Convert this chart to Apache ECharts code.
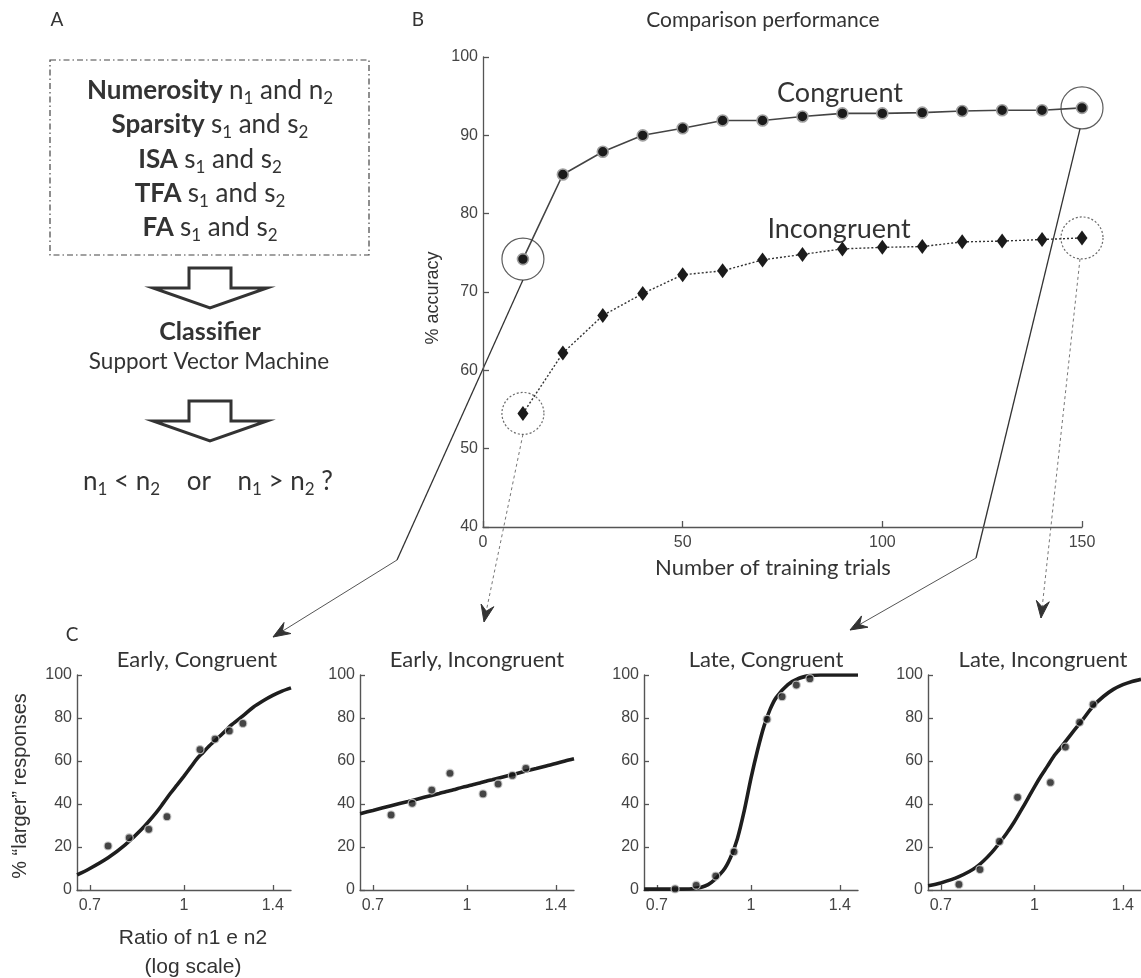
<!DOCTYPE html>
<html>
<head>
<meta charset="utf-8">
<title>Comparison performance</title>
<script src="https://cdn.jsdelivr.net/npm/echarts@6/dist/echarts.min.js"></script>
<style>
    html, body { margin: 0; padding: 0; background: #fff; }
    #main { width: 1141px; height: 978px; }
</style>
</head>
<body>
<div id="main"></div>
<script>
// ---- panel B : accuracy vs number of training trials
var trials = [10, 20, 30, 40, 50, 60, 70, 80, 90, 100, 110, 120, 130, 140, 150];
var congruentAcc = [74.2, 85.0, 87.9, 90.0, 90.9, 91.9, 91.9, 92.4, 92.8, 92.8, 92.9, 93.1, 93.2, 93.2, 93.5];
var incongruentAcc = [54.5, 62.2, 67.0, 69.8, 72.2, 72.7, 74.1, 74.8, 75.5, 75.7, 75.8, 76.4, 76.5, 76.7, 76.9];

// ---- panel C : % "larger" responses vs ratio n1/n2 (log scale)
var ratios = [0.75, 0.8125, 0.875, 0.9375, 1.0625, 1.125, 1.1875, 1.25];
var earlyCongPts = [20.5, 24.3, 28.2, 34.1, 65.3, 70.2, 74.0, 77.5];
var earlyIncPts  = [34.9, 40.3, 46.5, 54.3, 44.7, 49.3, 53.3, 56.6];
var lateCongPts  = [0.5, 2.2, 6.5, 17.8, 79.4, 89.9, 95.3, 98.3];
var lateIncPts   = [2.6, 9.5, 22.6, 43.1, 50.0, 66.5, 78.0, 86.3];

// fitted curves
var fitRatios    = [0.667, 0.7, 0.75, 0.8, 0.85, 0.9, 0.925, 0.95, 0.975, 1.0, 1.025, 1.05, 1.075, 1.1, 1.15, 1.2, 1.25, 1.3, 1.35, 1.4, 1.45, 1.5];
var earlyCongFit = [7, 10, 15, 21, 28, 36, 40.5, 45, 49, 53, 57, 61, 64, 67, 72, 77, 81, 85, 88, 90.5, 92.5, 94];
var earlyIncFit  = [35.5, 37, 39.2, 41.2, 43.1, 44.9, 45.8, 46.6, 47.5, 48.3, 49.1, 49.8, 50.6, 51.3, 52.7, 54, 55.3, 56.5, 57.7, 58.8, 60, 61];
var lateCongFit  = [0.4, 0.4, 0.4, 0.6, 2.5, 9, 15, 24, 37, 52, 65, 76, 84, 89.5, 95.5, 98.5, 99.7, 100, 100, 100, 100, 100];
var lateIncFit   = [2, 3.3, 6.2, 10.5, 17.5, 26.5, 31.5, 37, 42.5, 48, 53, 57.5, 62, 65.5, 72.5, 79, 85.5, 90, 93.3, 95.5, 97, 98];
var ratioTicks = [0.7, 1, 1.4];
var subTitles = ['Early, Congruent', 'Early, Incongruent', 'Late, Congruent', 'Late, Incongruent'];

var ptsC = [earlyCongPts, earlyIncPts, lateCongPts, lateIncPts];
var fitC = [earlyCongFit, earlyIncFit, lateCongFit, lateIncFit];

var chart = echarts.init(document.getElementById('main'));

var axisCol = '#555';
var labCol = '#444';
var txtCol = '#333';
var tickFont = 'Liberation Sans';
var titleFont = 'Lato';

function pair(xs, ys, fx) {
    var out = [];
    for (var i = 0; i < xs.length; i++) out.push([fx ? fx(xs[i]) : xs[i], ys[i]]);
    return out;
}

var grids = [{ left: 483, top: 57, width: 599, height: 470 }];
var xAxes = [{
    gridIndex: 0, type: 'value', min: 0, max: 150, interval: 50,
    axisLine: { onZero: false, lineStyle: { color: axisCol, width: 1.3 } },
    axisTick: { inside: true, length: 6, lineStyle: { color: axisCol, width: 1.3 } },
    axisLabel: { color: labCol, fontSize: 16, fontFamily: tickFont, margin: 8 },
    splitLine: { show: false }
}];
var yAxes = [{
    gridIndex: 0, type: 'value', min: 40, max: 100, interval: 10,
    axisLine: { show: true, onZero: false, lineStyle: { color: axisCol, width: 1.3 } },
    axisTick: { show: true, inside: true, length: 6, lineStyle: { color: axisCol, width: 1.3 } },
    axisLabel: { color: labCol, fontSize: 16, fontFamily: tickFont, margin: 5 },
    splitLine: { show: false }
}];

var series = [
    {
        type: 'line', xAxisIndex: 0, yAxisIndex: 0,
        data: pair(trials, congruentAcc),
        symbol: 'circle', symbolSize: 11,
        itemStyle: { color: '#1b1b1b', borderColor: '#a0a0a0', borderWidth: 1.6 },
        lineStyle: { color: '#444', width: 1.6 },
        z: 3
    },
    {
        type: 'line', xAxisIndex: 0, yAxisIndex: 0,
        data: pair(trials, incongruentAcc),
        symbol: 'diamond', symbolSize: [11, 15],
        itemStyle: { color: '#1b1b1b' },
        lineStyle: { color: '#333', width: 1.4, type: [2, 2] },
        z: 3
    },
    // circles around the early / late points
    {
        type: 'scatter', xAxisIndex: 0, yAxisIndex: 0, silent: true, clip: false,
        data: [[trials[0], congruentAcc[0]], [trials[trials.length - 1], congruentAcc[congruentAcc.length - 1]]],
        symbol: 'circle', symbolSize: 42,
        itemStyle: { color: 'rgba(0,0,0,0)', borderColor: '#333', borderWidth: 1.2 },
        z: 2
    },
    {
        type: 'scatter', xAxisIndex: 0, yAxisIndex: 0, silent: true, clip: false,
        data: [[trials[0], incongruentAcc[0]], [trials[trials.length - 1], incongruentAcc[incongruentAcc.length - 1]]],
        symbol: 'circle', symbolSize: 42,
        itemStyle: { color: 'rgba(0,0,0,0)', borderColor: '#444', borderWidth: 1.2, borderType: [2, 2] },
        z: 2
    }
];

var cLefts = [77, 360, 644, 928];
var logTicks = ratioTicks.map(function (r) { return Math.log(r); });
for (var k = 0; k < 4; k++) {
    var gi = k + 1;
    grids.push({ left: cLefts[k], top: 675, width: 214, height: 215 });
    xAxes.push({
        gridIndex: gi, type: 'value', min: Math.log(2 / 3), max: Math.log(1.5),
        axisLine: { onZero: false, lineStyle: { color: axisCol, width: 1.4 } },
        axisTick: { inside: true, length: 5, customValues: logTicks, lineStyle: { color: axisCol, width: 1.3 } },
        axisLabel: {
            color: labCol, fontSize: 16, fontFamily: tickFont, margin: 8,
            customValues: logTicks,
            formatter: function (v) { return String(parseFloat(Math.exp(v).toFixed(2))); }
        },
        splitLine: { show: false }
    });
    yAxes.push({
        gridIndex: gi, type: 'value', min: 0, max: 100, interval: 20,
        axisLine: { show: true, onZero: false, lineStyle: { color: axisCol, width: 1.4 } },
        axisTick: { show: true, inside: true, length: 5, lineStyle: { color: axisCol, width: 1.3 } },
        axisLabel: { color: labCol, fontSize: 16, fontFamily: tickFont, margin: 5 },
        splitLine: { show: false }
    });
    series.push({
        type: 'line', xAxisIndex: gi, yAxisIndex: gi,
        data: pair(fitRatios, fitC[k], Math.log),
        smooth: 0.3, showSymbol: false, silent: true,
        lineStyle: { color: '#1e1e1e', width: 3.6 },
        z: 2
    });
    series.push({
        type: 'scatter', xAxisIndex: gi, yAxisIndex: gi,
        data: pair(ratios, ptsC[k], Math.log),
        symbol: 'circle', symbolSize: 8,
        itemStyle: { color: '#161616', borderColor: '#cfcfcf', borderWidth: 1.3 },
        z: 3
    });
}

function label(text, x, y, size, family, extra) {
    var st = { text: text, x: 0, y: 0, fill: txtCol, fontSize: size, fontFamily: family, align: 'center', verticalAlign: 'middle' };
    var el = { type: 'text', x: x, y: y, silent: true, style: st };
    if (extra) {
        for (var key in extra) {
            if (key === 'fontWeight') st.fontWeight = extra[key]; else el[key] = extra[key];
        }
    }
    return el;
}

// rich text with subscripts for panel A
var richA = {
    b: { fontFamily: titleFont, fontSize: 26, fontWeight: 'bold', lineHeight: 32, fill: txtCol, color: txtCol },
    t: { fontFamily: titleFont, fontSize: 26, lineHeight: 32, fill: txtCol, color: txtCol },
    s: { fontFamily: titleFont, fontSize: 17, lineHeight: 16, verticalAlign: 'bottom', fill: txtCol, color: txtCol }
};
function richLine(str, x, y) {
    return {
        type: 'text', x: x, y: y, silent: true,
        style: { text: str, rich: richA, align: 'center', verticalAlign: 'middle', fill: txtCol, fontFamily: titleFont, fontSize: 26 }
    };
}

function blockArrow(cx, top) {
    return {
        type: 'polygon', silent: true,
        shape: { points: [[cx - 21, top], [cx + 21, top], [cx + 21, top + 20], [cx + 57, top + 20], [cx, top + 40], [cx - 57, top + 20], [cx - 21, top + 20]] },
        style: { fill: '#fff', stroke: '#333', lineWidth: 3, lineJoin: 'miter' }
    };
}

var graphics = [
    label('A', 57, 20, 19, titleFont),
    label('B', 418, 20, 19, titleFont),
    label('C', 72, 635, 19, titleFont),
    label('Comparison performance', 763, 20, 21, titleFont),
    label('Congruent', 840, 93, 27, titleFont),
    label('Incongruent', 839, 229, 27, titleFont),
    label('Number of training trials', 773, 568, 22, titleFont),
    label('% accuracy', 433, 298, 18, tickFont, { rotation: Math.PI / 2 }),
    label('% \u201clarger\u201d responses', 20, 786, 20, tickFont, { rotation: Math.PI / 2 }),
    label('Ratio of n1 e n2', 193, 938, 21, tickFont),
    label('(log scale)', 193, 967, 21, tickFont),
    label(subTitles[0], 197, 660, 22, titleFont),
    label(subTitles[1], 477, 660, 22, titleFont),
    label(subTitles[2], 766, 660, 22, titleFont),
    label(subTitles[3], 1043, 660, 22, titleFont),
    {
        type: 'rect', silent: true,
        shape: { x: 50, y: 60, width: 319, height: 195 },
        style: { fill: 'none', stroke: '#444', lineWidth: 1.2, lineDash: [6, 3, 1.5, 3] }
    },
    richLine('{b|Numerosity }{t|n}{s|1}{t| and n}{s|2}', 210, 91),
    richLine('{b|Sparsity }{t|s}{s|1}{t| and s}{s|2}', 210, 125),
    richLine('{b|ISA }{t|s}{s|1}{t| and s}{s|2}', 210, 160),
    richLine('{b|TFA }{t|s}{s|1}{t| and s}{s|2}', 210, 194),
    richLine('{b|FA }{t|s}{s|1}{t| and s}{s|2}', 210, 228),
    blockArrow(210, 268),
    label('Classifier', 210, 332, 25, titleFont, { fontWeight: 'bold' }),
    label('Support Vector Machine', 209, 362, 22.5, titleFont),
    blockArrow(210, 401),
    richLine('{t|n}{s|1}{t| < n}{s|2}{t|    or    n}{s|1}{t| > n}{s|2}{t| ?}', 208, 482)
];

chart.setOption({
    animation: false,
    backgroundColor: '#fff',
    textStyle: { fontFamily: tickFont },
    grid: grids,
    xAxis: xAxes,
    yAxis: yAxes,
    series: series,
    graphic: graphics
});

// connector arrows from the circled points to the panels of C
function arrowHead(tip, from, color) {
    var dx = tip[0] - from[0], dy = tip[1] - from[1];
    var len = Math.sqrt(dx * dx + dy * dy);
    var ux = dx / len, uy = dy / len, nx = -uy, ny = ux;
    var L = 17, W = 6.5;
    return {
        type: 'polygon', silent: true,
        shape: { points: [
            tip,
            [tip[0] - L * ux + W * nx, tip[1] - L * uy + W * ny],
            [tip[0] - 0.65 * L * ux, tip[1] - 0.65 * L * uy],
            [tip[0] - L * ux - W * nx, tip[1] - L * uy - W * ny]
        ] },
        style: { fill: color, stroke: color, lineWidth: 1 }
    };
}
function seg(points, color, width, dash) {
    return {
        type: 'polyline', silent: true,
        shape: { points: points },
        style: { stroke: color, lineWidth: width, fill: 'none', lineDash: dash || null }
    };
}

var last = trials.length - 1;
var earlyC = chart.convertToPixel({ gridIndex: 0 }, [trials[0], congruentAcc[0]]);
var lateC = chart.convertToPixel({ gridIndex: 0 }, [trials[last], congruentAcc[last]]);
var earlyI = chart.convertToPixel({ gridIndex: 0 }, [trials[0], incongruentAcc[0]]);
var lateI = chart.convertToPixel({ gridIndex: 0 }, [trials[last], incongruentAcc[last]]);
var r = 21;

var k1 = [397, 560], t1 = [273, 637];
var t2 = [484, 622];
var k3 = [976, 558], t3 = [850, 630];
var t4 = [1041, 618];

var conn = [
    seg([[earlyC[0], earlyC[1] + r], k1], '#333', 1.3),
    seg([k1, t1], '#555', 1),
    arrowHead(t1, k1, '#333'),
    seg([[earlyI[0], earlyI[1] + r], t2], '#777', 1, [3, 3]),
    arrowHead(t2, [earlyI[0], earlyI[1] + r], '#333'),
    seg([[lateC[0] - 2, lateC[1] + r], k3], '#333', 1.3),
    seg([k3, t3], '#555', 1),
    arrowHead(t3, k3, '#333'),
    seg([[lateI[0] - 2, lateI[1] + r], t4], '#777', 1, [3, 3]),
    arrowHead(t4, [lateI[0] - 2, lateI[1] + r], '#333')
];

chart.setOption({ graphic: graphics.concat(conn) });
</script>
</body>
</html>
